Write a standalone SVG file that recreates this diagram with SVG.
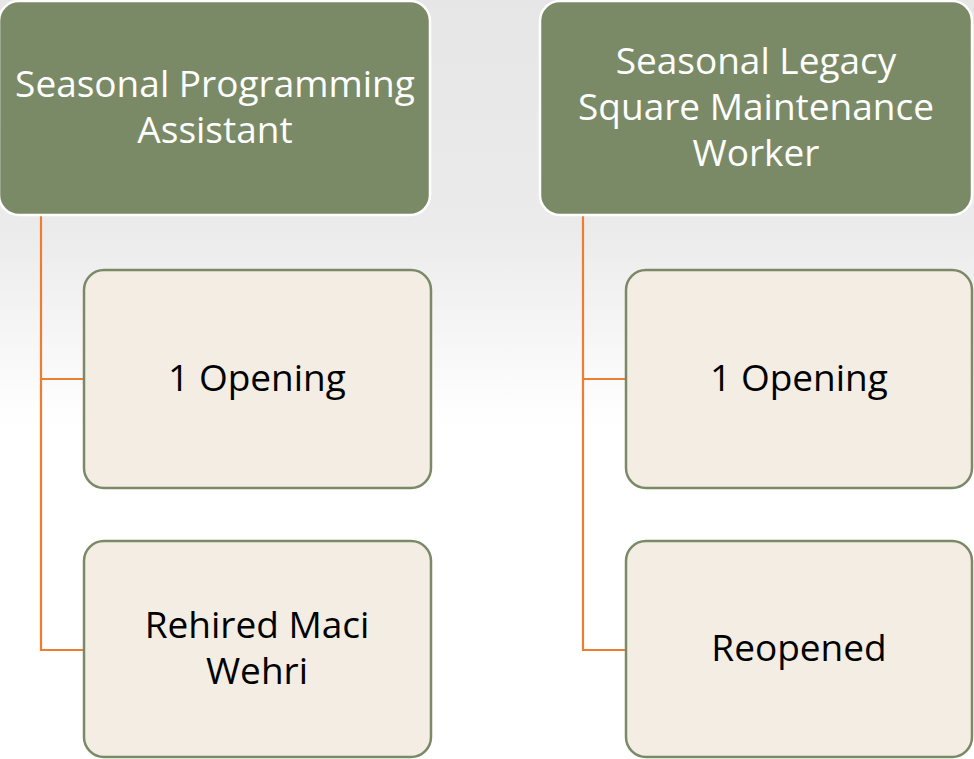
<svg xmlns="http://www.w3.org/2000/svg" width="974" height="759" viewBox="0 0 974 759">
<defs>
<linearGradient id="bg" x1="0" y1="0" x2="0" y2="1">
<stop offset="0" stop-color="#e6e6e6"/>
<stop offset="0.3" stop-color="#ebebeb"/>
<stop offset="0.56" stop-color="#ffffff"/>
<stop offset="1" stop-color="#ffffff"/>
</linearGradient>
</defs>
<style>
.parent rect{fill:#7b8a66;stroke:#ffffff;stroke-width:2.5}
.child rect{fill:#f3ede3;stroke:#7b8a66;stroke-width:2.5}
.parent text{fill:#ffffff;font-family:"Open Sans","Liberation Sans",sans-serif;font-size:37px;text-anchor:middle}
.child text{fill:#000000;font-family:"Open Sans","Liberation Sans",sans-serif;font-size:37px;text-anchor:middle}
#connectors path{fill:none;stroke:#ed7d31;stroke-width:2.2}
</style>
<rect x="0" y="0" width="974" height="759" fill="url(#bg)"/>
<g id="connectors">
<path d="M41 216 V650 H84 M41 379 H84"/>
<path d="M583 216 V650 H626 M583 379 H626"/>
</g>
<g id="p1" class="parent">
<rect x="-1" y="1" width="431" height="214" rx="20"/>
<text x="215" y="97">Seasonal Programming</text>
<text x="215" y="143">Assistant</text>
</g>
<g id="p2" class="parent">
<rect x="540" y="1" width="432" height="214" rx="20"/>
<text x="756" y="74">Seasonal Legacy</text>
<text x="756" y="120">Square Maintenance</text>
<text x="756" y="166">Worker</text>
</g>
<g id="c1" class="child">
<rect x="84" y="270" width="347" height="218" rx="20"/>
<text x="257" y="391">1 Opening</text>
</g>
<g id="c2" class="child">
<rect x="84" y="541" width="347" height="216" rx="20"/>
<text x="257" y="638">Rehired Maci</text>
<text x="257" y="684">Wehri</text>
</g>
<g id="c3" class="child">
<rect x="626" y="270" width="346" height="218" rx="20"/>
<text x="799" y="391">1 Opening</text>
</g>
<g id="c4" class="child">
<rect x="626" y="541" width="346" height="216" rx="20"/>
<text x="799" y="661">Reopened</text>
</g>
</svg>
